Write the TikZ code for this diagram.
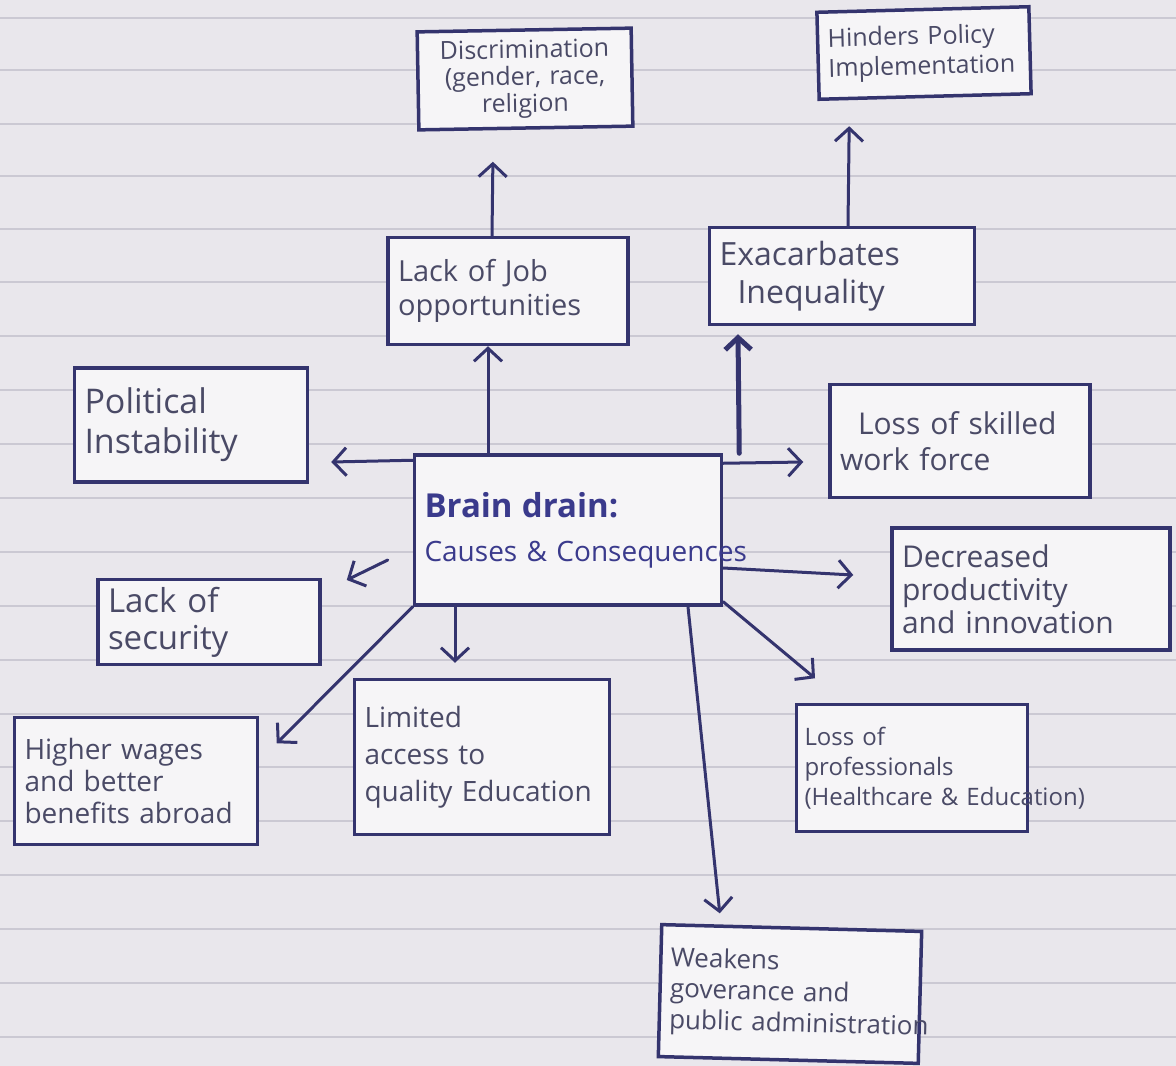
\documentclass[tikz,border=0pt]{standalone}
\usepackage{fontspec}
\setmainfont{Open Sans}
\usetikzlibrary{arrows.meta}
\definecolor{paper}{HTML}{E9E7EC}
\definecolor{rule}{HTML}{CBC9D3}
\definecolor{ink}{HTML}{34346E}
\definecolor{pencil}{HTML}{4A4A66}
\definecolor{title}{HTML}{3A3A8C}
\tikzset{
  box/.style={draw=ink, line width=3.5pt, fill=white!60!paper, inner xsep=10pt, inner ysep=4pt,
    text=pencil, align=left},
  fs/.style 2 args={font=\fontsize{#1}{#2}\selectfont},
  arr/.style={draw=ink, line width=3pt, line cap=round,
    -{Straight Barb[length=13pt,width=28pt,line width=3pt]}},
  thickarr/.style={arr, line width=5pt, -{Straight Barb[length=12pt,width=26pt,line width=5pt]}}
}
\begin{document}
\begin{tikzpicture}[x=1pt,y=-1pt]
\useasboundingbox (0,0) rectangle (1176,1066);
\fill[paper] (0,0) rectangle (1176,1066);
\foreach \yy in {18,70,124,176,229,282,336,390,444,498,552,606,660,714,767,821,875,929,983,1037}
  \draw[rule, line width=1.2pt] (0,\yy) -- (1176,\yy);

\node[box, fs={25}{27}, text width=194pt, minimum height=98pt, align=center, rotate=1] (disc) at (525,79)
  {Discrimination\\(gender, race,\\religion};
\node[box, fs={25}{30}, text width=192pt, minimum height=87pt, rotate=1.5] (hind) at (924,53)
  {Hinders Policy\\Implementation};
\node[box, fs={29}{34}, text width=220pt, minimum height=107pt] (job) at (508,291)
  {Lack of Job\\opportunities};
\node[box, fs={32}{38}, text width=245pt, minimum height=97pt] (exac) at (842,276)
  {Exacarbates\\\hspace*{18pt}Inequality};
\node[box, fs={34}{40}, text width=213pt, minimum height=114pt] (pol) at (191,425)
  {Political\\Instability};
\node[box, text=title, fs={28}{44}, text width=287pt, minimum height=150pt] (cen) at (568,530)
  {\textbf{\fontsize{33}{40}\selectfont Brain drain:}\\\mbox{Causes \& Consequences}};
\node[box, fs={30}{36}, text width=240pt, minimum height=113pt] (skill) at (960,441)
  {\hspace*{18pt}Loss of skilled\\work force};
\node[box, fs={30}{33}, text width=258pt, minimum height=122pt] (decr) at (1031,589)
  {Decreased\\productivity\\and innovation};
\node[box, fs={33}{37}, text width=202pt, minimum height=85pt] (sec) at (209,622)
  {Lack of\\security};
\node[box, fs={28}{37}, text width=235pt, minimum height=155pt] (lim) at (482,757)
  {Limited\\access to\\\mbox{quality Education}};
\node[box, fs={28}{32}, text width=223pt, minimum height=127pt] (high) at (136,781)
  {Higher wages\\and better\\\mbox{benefits abroad}};
\node[box, fs={24}{30}, text width=215pt, minimum height=127pt, inner xsep=8pt] (prof) at (912,768)
  {Loss of\\professionals\\\mbox{(Healthcare \& Education)}};
\node[box, fs={26}{31}, text width=240pt, minimum height=132pt, rotate=-1.5] (weak) at (790,994)
  {Weakens\\goverance and\\\mbox{public administration}};

\draw[arr] ([xshift=-80pt]cen.north) -- ([xshift=-20pt]job.south);
\draw[arr] ([xshift=-16pt]job.north) -- ([xshift=-33pt,yshift=-32pt]disc.south);
\draw[thickarr] ([xshift=16pt]cen.north east) -- ([xshift=-104pt,yshift=-8pt]exac.south);
\draw[arr] ([xshift=6pt]exac.north) -- ([xshift=-76pt,yshift=-28pt]hind.south);
\draw[arr] ([yshift=-7pt]cen.north west) -- ([xshift=22pt,yshift=-37pt]pol.east);
\draw[arr] ([yshift=-10pt]cen.north east) -- ([xshift=-25pt,yshift=-21pt]skill.west);
\draw[arr] ([yshift=-38pt]cen.east) -- ([xshift=-37pt,yshift=14pt]decr.west);
\draw[arr] ([xshift=-25pt,yshift=-30pt]cen.west) -- ([xshift=25pt,yshift=42pt]sec.east);
\draw[arr] ([xshift=-113pt]cen.south) -- ([xshift=-27pt,yshift=15pt]lim.north);
\draw[arr] (cen.south west) -- ([xshift=17.5pt,yshift=-27.5pt]high.north east);
\draw[arr] ([yshift=5pt]cen.south east) -- ([xshift=-97pt,yshift=24.5pt]prof.north);
\draw[arr] ([xshift=120pt]cen.south) -- ([xshift=-72pt,yshift=13pt]weak.north);
\end{tikzpicture}
\end{document}
